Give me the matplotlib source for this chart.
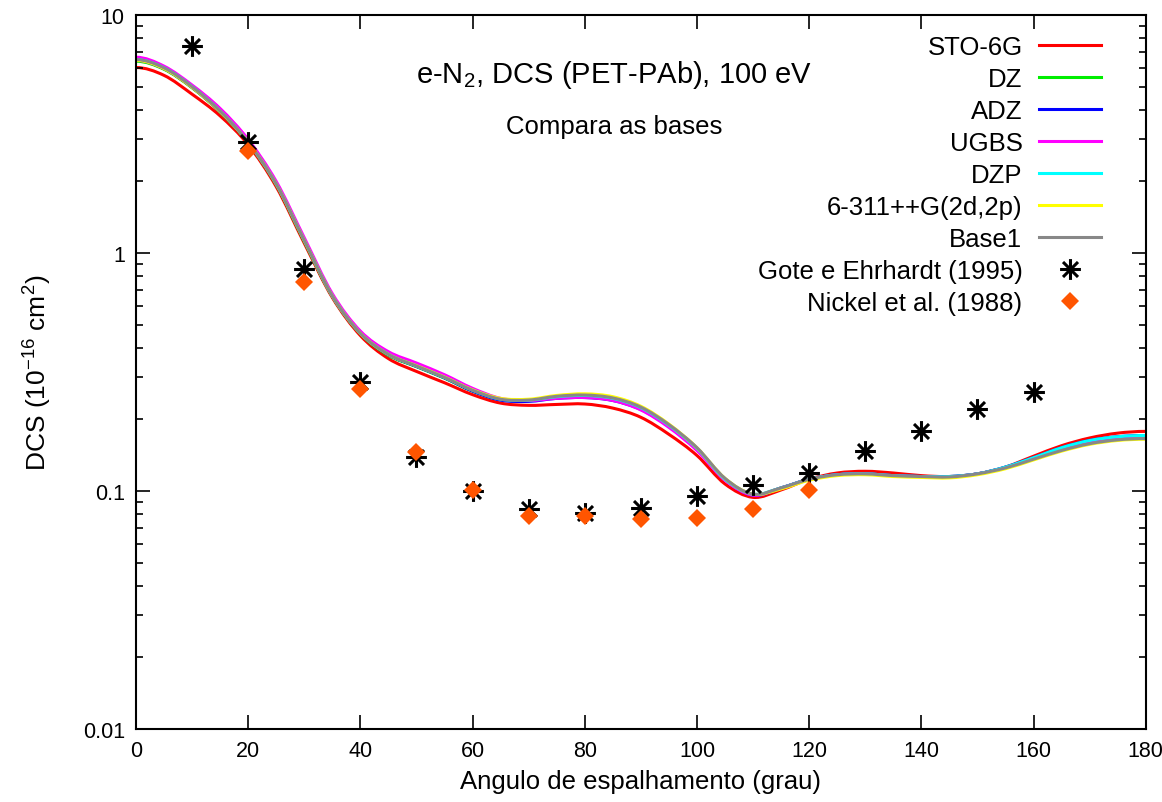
import numpy as np
import matplotlib
matplotlib.use("Agg")
import matplotlib.pyplot as plt
from matplotlib.path import Path
from matplotlib.patches import PathPatch

plt.rcParams['font.family'] = ['Liberation Sans', 'DejaVu Sans']
plt.rcParams['mathtext.fontset'] = 'custom'
plt.rcParams['mathtext.rm'] = 'Liberation Sans'
plt.rcParams['mathtext.it'] = 'Liberation Sans'

# angles (deg) where the theory curves are sampled
angle = np.arange(0, 181, 5)

sto6g = [6.02, 5.58, 4.65, 3.77, 2.85, 1.90, 1.10, 0.650, 0.450, 0.360, 0.318, 0.285, 0.254,
         0.234, 0.229, 0.231, 0.232, 0.223, 0.204, 0.173, 0.141, 0.107, 0.094, 0.101, 0.112,
         0.119, 0.121, 0.119, 0.116, 0.115, 0.118, 0.126, 0.140, 0.155, 0.167, 0.175, 0.178]
dz = [6.40, 5.92, 4.95, 3.92, 2.91, 1.94, 1.12, 0.658, 0.458, 0.372, 0.333, 0.298, 0.263,
      0.242, 0.240, 0.248, 0.250, 0.243, 0.222, 0.188, 0.150, 0.112, 0.096, 0.103, 0.112,
      0.117, 0.118, 0.116, 0.115, 0.1145, 0.118, 0.125, 0.137, 0.150, 0.160, 0.166, 0.168]
adz = [6.45, 5.95, 4.97, 3.93, 2.92, 1.95, 1.13, 0.660, 0.460, 0.374, 0.334, 0.299, 0.263,
       0.241, 0.238, 0.245, 0.247, 0.240, 0.220, 0.187, 0.150, 0.112, 0.096, 0.103, 0.112,
       0.117, 0.118, 0.116, 0.115, 0.115, 0.118, 0.126, 0.138, 0.152, 0.163, 0.169, 0.171]
ugbs = [6.65, 6.10, 5.08, 4.05, 3.00, 2.00, 1.16, 0.675, 0.470, 0.385, 0.345, 0.308, 0.270,
        0.245, 0.240, 0.245, 0.247, 0.240, 0.219, 0.185, 0.148, 0.111, 0.096, 0.103, 0.112,
        0.117, 0.118, 0.116, 0.115, 0.1145, 0.118, 0.125, 0.137, 0.150, 0.161, 0.167, 0.169]
dzp = [6.50, 6.00, 5.00, 3.95, 2.92, 1.95, 1.13, 0.660, 0.460, 0.375, 0.335, 0.300, 0.265,
       0.243, 0.241, 0.249, 0.252, 0.245, 0.224, 0.189, 0.151, 0.112, 0.097, 0.103, 0.112,
       0.117, 0.118, 0.116, 0.115, 0.115, 0.118, 0.126, 0.138, 0.152, 0.163, 0.169, 0.171]
g6311 = [6.45, 5.95, 4.97, 3.93, 2.92, 1.95, 1.13, 0.660, 0.460, 0.375, 0.336, 0.301, 0.266,
         0.245, 0.243, 0.252, 0.256, 0.249, 0.227, 0.191, 0.152, 0.113, 0.097, 0.102, 0.111,
         0.116, 0.117, 0.115, 0.114, 0.1135, 0.117, 0.124, 0.135, 0.147, 0.157, 0.163, 0.165]
base1 = [6.50, 6.00, 5.00, 3.95, 2.92, 1.95, 1.13, 0.660, 0.460, 0.375, 0.335, 0.300, 0.265,
         0.243, 0.241, 0.250, 0.253, 0.246, 0.225, 0.190, 0.152, 0.113, 0.097, 0.103, 0.112,
         0.117, 0.118, 0.116, 0.115, 0.1145, 0.118, 0.125, 0.136, 0.148, 0.158, 0.164, 0.166]

# experimental data
gote_ang = [10, 20, 30, 40, 50, 60, 70, 80, 90, 100, 110, 120, 130, 140, 150, 160]
gote_dcs = [7.41, 2.92, 0.857, 0.287, 0.139, 0.100, 0.084, 0.081, 0.085, 0.095, 0.106,
            0.119, 0.147, 0.179, 0.221, 0.261]
nickel_ang = [20, 30, 40, 50, 60, 70, 80, 90, 100, 110, 120]
nickel_dcs = [2.69, 0.755, 0.269, 0.146, 0.101, 0.0786, 0.0785, 0.076, 0.077, 0.084, 0.101]

series = [
    ("STO-6G", sto6g, "#ff0000"),
    ("DZ", dz, "#00ee00"),
    ("ADZ", adz, "#0000ff"),
    ("UGBS", ugbs, "#ff00ff"),
    ("DZP", dzp, "#00ffff"),
    ("6-311++G(2d,2p)", g6311, "#ffff00"),
    ("Base1", base1, "#888888"),
]


def smooth_path(x, y):
    # bezier path through the samples in log(y) space,
    # flat at both ends (DCS is symmetric about 0 and 180 deg)
    x = np.asarray(x, float)
    ly = np.log10(np.asarray(y, float))
    n = len(x)
    verts = [(x[0], y[0])]
    codes = [Path.MOVETO]
    for i in range(n - 1):
        h = x[i + 1] - x[i]
        s1 = 0.0 if i == 0 else (ly[i + 1] - ly[i - 1]) / (x[i + 1] - x[i - 1])
        s2 = 0.0 if i + 1 == n - 1 else (ly[i + 2] - ly[i]) / (x[i + 2] - x[i])
        c1 = (x[i] + h / 3, 10 ** (ly[i] + s1 * h / 3))
        c2 = (x[i + 1] - h / 3, 10 ** (ly[i + 1] - s2 * h / 3))
        verts += [c1, c2, (x[i + 1], y[i + 1])]
        codes += [Path.CURVE4] * 3
    return Path(verts, codes)


# asterisk marker: "+" and "x" together
asterisk = Path(
    [(-1, 0), (1, 0), (0, -1), (0, 1),
     (-0.72, -0.72), (0.72, 0.72), (-0.72, 0.72), (0.72, -0.72)],
    [Path.MOVETO, Path.LINETO] * 4)

fig = plt.figure(figsize=(11.62, 8.03), dpi=100)
ax = fig.add_axes([0.117, 0.091, 0.869, 0.889])
ax.set_yscale('log')
ax.set_xlim(0, 180)
ax.set_ylim(0.01, 10)

for name, vals, col in series:
    ax.add_patch(PathPatch(smooth_path(angle, vals), fill=False, edgecolor=col,
                           lw=2.2, joinstyle='round', capstyle='butt'))
    ax.plot([], [], color=col, lw=2.2, label=name)

ax.plot(gote_ang, gote_dcs, linestyle='none', marker=asterisk, ms=15, mew=2.2,
        color='black', label="Gote e Ehrhardt (1995)")
ax.plot(nickel_ang, nickel_dcs, linestyle='none', marker='D', ms=9.5, mew=0,
        color='#ff5500', label="Nickel et al. (1988)")

ax.set_xticks(np.arange(0, 181, 20))
ax.set_yticks([0.01, 0.1, 1, 10])
ax.set_yticklabels(["0.01", "0.1", "1", "10"])
ax.tick_params(which='both', direction='in', top=True, right=True, labelsize=15.5, width=1.2)
ax.tick_params(which='major', length=10, pad=8)
ax.tick_params(which='minor', length=5)
ax.tick_params(axis='x', which='minor', bottom=False, top=False)
for s in ax.spines.values():
    s.set_linewidth(1.5)

ax.set_xlabel("Angulo de espalhamento (grau)", fontsize=18.5, labelpad=6)
ax.set_ylabel(r"DCS (10$^{-16}$ cm$^2$)", fontsize=19, labelpad=21)

ax.text(0.474, 0.917, r"e-N$_2$, DCS (PET-PAb), 100 eV", transform=ax.transAxes,
        ha='center', va='center', fontsize=21)
ax.text(0.474, 0.845, "Compara as bases", transform=ax.transAxes,
        ha='center', va='center', fontsize=18.5)

leg = ax.legend(loc='upper right', bbox_to_anchor=(0.966, 0.986), frameon=False,
                markerfirst=False, fontsize=18.5, handlelength=2.4, labelspacing=0.31,
                handletextpad=0.66, borderaxespad=0.0)
for t in leg.get_texts():
    t.set_ha('right')
leg._legend_box.align = 'right'

fig.savefig("out.png", dpi=100)
